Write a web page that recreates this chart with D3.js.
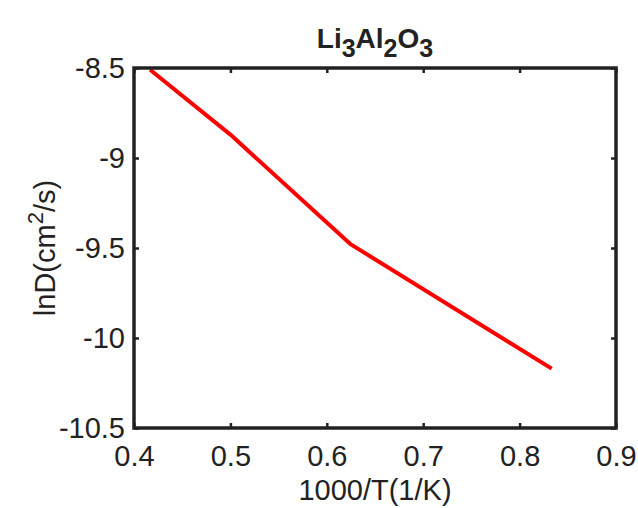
<!DOCTYPE html>
<html>
<head>
<meta charset="utf-8">
<script src="https://cdn.jsdelivr.net/npm/d3@7"></script>
<style>
  html, body { margin: 0; padding: 0; background: #fff; }
  svg { display: block; font-family: "Liberation Sans", Arial, sans-serif; }
</style>
</head>
<body>
<svg id="chart" width="638" height="508"></svg>
<script>
// Arrhenius data: inverse temperature vs. ln of diffusion coefficient
const invT = [0.4167, 0.5, 0.625, 0.8333];
const lnD = [-8.51, -8.87, -9.48, -10.17];
const xTicks = [0.4, 0.5, 0.6, 0.7, 0.8, 0.9];
const yTicks = [-10.5, -10, -9.5, -9, -8.5];

const svg = d3.select("#chart");
const m = { left: 134, right: 616, top: 68, bottom: 428 };

const x = d3.scaleLinear().domain([0.4, 0.9]).range([m.left, m.right]);
const y = d3.scaleLinear().domain([-10.5, -8.5]).range([m.bottom, m.top]);
const ink = "#222";
const fs = 29;

// data line
const line = d3.line().x((d, i) => x(invT[i])).y(d => y(d));
svg.append("path")
  .datum(lnD)
  .attr("d", line)
  .attr("fill", "none")
  .attr("stroke", "#ff0000")
  .attr("stroke-width", 4)
  .attr("stroke-linejoin", "round");

// axes with inward ticks on all four sides
function styleAxis(g) {
  g.selectAll(".domain").remove();
  g.selectAll(".tick line").attr("stroke", ink).attr("stroke-width", 2.5);
  g.selectAll(".tick text").attr("fill", ink).attr("font-size", fs)
    .attr("font-family", "Liberation Sans, Arial, sans-serif");
}
const fmt = d => String(d);

svg.append("g").attr("transform", `translate(0,${m.bottom})`)
  .call(d3.axisBottom(x).tickValues(xTicks).tickFormat(fmt).tickSizeInner(-5).tickPadding(17))
  .call(styleAxis);
svg.append("g").attr("transform", `translate(0,${m.top})`)
  .call(d3.axisTop(x).tickValues(xTicks).tickFormat("").tickSizeInner(-5))
  .call(styleAxis);
svg.append("g").attr("transform", `translate(${m.left},0)`)
  .call(d3.axisLeft(y).tickValues(yTicks).tickFormat(fmt).tickSizeInner(-5).tickPadding(9))
  .call(styleAxis);
svg.append("g").attr("transform", `translate(${m.right},0)`)
  .call(d3.axisRight(y).tickValues(yTicks).tickFormat("").tickSizeInner(-5))
  .call(styleAxis);

// plot frame
svg.append("rect")
  .attr("x", m.left).attr("y", m.top)
  .attr("width", m.right - m.left).attr("height", m.bottom - m.top)
  .attr("fill", "none").attr("stroke", ink).attr("stroke-width", 3.5);

// title with subscripts
const title = svg.append("text")
  .attr("x", (m.left + m.right) / 2).attr("y", 48)
  .attr("text-anchor", "middle").attr("font-size", 28).attr("font-weight", "bold").attr("fill", ink);
[["Li", false], ["3", true], ["Al", false], ["2", true], ["O", false], ["3", true]].forEach(([t, sub]) => {
  title.append("tspan").text(t)
    .attr("baseline-shift", sub ? "-35%" : null)
    .attr("font-size", sub ? 25 : 28);
});

// x axis label
svg.append("text")
  .attr("x", (m.left + m.right) / 2).attr("y", 500)
  .attr("text-anchor", "middle").attr("font-size", fs).attr("fill", ink)
  .text("1000/T(1/K)");

// y axis label with superscript
const yl = svg.append("text")
  .attr("transform", `translate(55,${(m.top + m.bottom) / 2}) rotate(-90)`)
  .attr("text-anchor", "middle").attr("font-size", fs).attr("fill", ink);
yl.append("tspan").text("lnD(cm");
yl.append("tspan").text("2").attr("baseline-shift", "super").attr("font-size", 22);
yl.append("tspan").text("/s)");
</script>
</body>
</html>
